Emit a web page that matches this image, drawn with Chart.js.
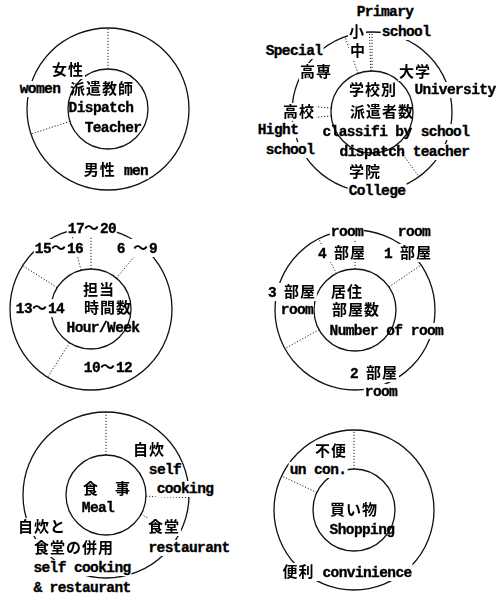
<!DOCTYPE html>
<html>
<head>
<meta charset="utf-8">
<script src="https://cdn.jsdelivr.net/npm/chart.js@4.4.0/dist/chart.umd.min.js"></script>
<style>
html, body { margin: 0; padding: 0; background: #fff; }
#page { position: relative; width: 500px; height: 598px; overflow: hidden; }
#page canvas { position: absolute; }
.lb {
    position: absolute; transform: translate(-50%, -50%); white-space: nowrap;
    font-family: "Liberation Mono", monospace; font-weight: bold; font-size: 14.5px;
    letter-spacing: -0.6px; -webkit-text-stroke: 0.35px #000;
    line-height: 16px; color: #000;
}
.lb.bg { background: #fff; padding: 0 1px; }
.j { font-family: "Noto Sans CJK JP", sans-serif; font-size: 15px; letter-spacing: 1px; -webkit-text-stroke: 0; }
</style>
</head>
<body>
<div id="page"></div>
<script>
// --- Datos (porcentajes, sentido horario desde arriba) ---
const sexLabels = ['男性 men', '女性 women'];
const sexValues = [70, 30];

const schoolLabels = ['大学 University', '学院 College', '高校 Hight school', '高専 Special', '中', '小 Primary school'];
const schoolValues = [40, 33.5, 3, 18, 5, 0.5];

const hourLabels = ['6～9', '10～12', '13～14', '15～16', '17～20'];
const hourValues = [11, 48, 25, 12, 4];

const roomLabels = ['1部屋 room', '2部屋 room', '3部屋 room', '4部屋 room'];
const roomValues = [15.5, 51.5, 25.5, 7.5];

const mealLabels = ['自炊 self cooking', '食堂 restaurant', '自炊と食堂の併用 self cooking & restaurant'];
const mealValues = [25.5, 7.5, 67];

const shopLabels = ['便利 convinience', '不便 un con.'];
const shopValues = [82, 18];

// --- Disposición de cada anillo y sus rótulos ---
const panels = [
    { labels: sexLabels, values: sexValues, cx: 108, cy: 109, R: 81, r: 40,
      text: [
        ['女性', 68, 70, true], ['women', 40, 89, true], ['派遣教師', 102, 89, false],
        ['Dispatch', 101, 108, false], ['Teacher', 113, 128, false], ['男性 men', 116, 170, true]
      ] },
    { labels: schoolLabels, values: schoolValues, cx: 372, cy: 112, R: 80, r: 41,
      text: [
        ['Primary', 385, 12, false], ['小', 357, 32, true], ['school', 406, 32, true],
        ['Special', 294, 51, true], ['中', 358, 51, true], ['高専', 316, 72, true],
        ['大学', 415, 72, true], ['学校別', 373, 90, false], ['University', 455, 90, true],
        ['高校', 299, 112, true], ['派遣者数', 382, 112, false], ['Hight', 278, 130, true],
        ['classifi by', 367, 132, false], ['school', 445, 132, true], ['school', 290, 150, true],
        ['dispatch', 372, 152, false], ['teacher', 441, 152, true], ['学院', 365, 172, true],
        ['College', 377, 191, true]
      ] },
    { labels: hourLabels, values: hourValues, cx: 91, cy: 309, R: 81, r: 40,
      text: [
        ['17～20', 92, 228, true], ['15～16', 59, 248, true], ['6 ～9', 137, 248, true],
        ['担当', 99, 290, false], ['13～14', 40, 308, true], ['時間数', 108, 308, false],
        ['Hour/Week', 103, 328, false], ['10～12', 108, 367, true]
      ] },
    { labels: roomLabels, values: roomValues, cx: 355, cy: 310, R: 80, r: 41,
      text: [
        ['room', 347, 232, true], ['room', 414, 232, false], ['4 部屋', 342, 253, true],
        ['1 部屋', 408, 253, true], ['3 部屋', 292, 292, true], ['居住', 347, 292, false],
        ['room', 297, 310, true], ['部屋数', 356, 310, false], ['Number of', 366, 331, false],
        ['room', 427, 331, true], ['2 部屋', 374, 373, true], ['room', 381, 392, true]
      ] },
    { labels: mealLabels, values: mealValues, cx: 106, cy: 495, R: 83, r: 40,
      text: [
        ['自炊', 149, 450, true], ['self', 165, 470, true], ['食　事', 107, 489, false],
        ['cooking', 185, 489, true], ['Meal', 98, 508, false], ['自炊と', 42, 527, true],
        ['食堂', 164, 527, true], ['食堂の併用', 74, 548, true], ['restaurant', 189, 548, true],
        ['self cooking', 82, 568, true], ['& restaurant', 82, 588, true]
      ] },
    { labels: shopLabels, values: shopValues, cx: 354, cy: 510, R: 80, r: 41,
      text: [
        ['不便', 331, 451, true], ['un con.', 318, 470, true], ['買い物', 354, 510, false],
        ['Shopping', 362, 530, false], ['便利 convinience', 347, 572, true]
      ] }
];

// Dibuja los círculos y las divisiones punteadas a partir de los arcos de Chart.js
const ringLines = {
    id: 'ringLines',
    afterDatasetsDraw(chart) {
        const arcs = chart.getDatasetMeta(0).data;
        if (!arcs.length) return;
        const ctx = chart.ctx;
        ctx.save();
        ctx.strokeStyle = '#222';
        ctx.lineWidth = 1;
        ctx.setLineDash([1.2, 1.8]);
        arcs.forEach(a => {
            const p = a.getProps(['x', 'y', 'startAngle', 'innerRadius', 'outerRadius'], true);
            const c = Math.cos(p.startAngle), s = Math.sin(p.startAngle);
            ctx.beginPath();
            ctx.moveTo(p.x + c * p.innerRadius, p.y + s * p.innerRadius);
            ctx.lineTo(p.x + c * p.outerRadius, p.y + s * p.outerRadius);
            ctx.stroke();
        });
        ctx.setLineDash([]);
        ctx.lineWidth = 1.3;
        ctx.strokeStyle = '#111';
        const p = arcs[0].getProps(['x', 'y', 'innerRadius', 'outerRadius'], true);
        ctx.beginPath();
        ctx.arc(p.x, p.y, p.outerRadius, 0, Math.PI * 2);
        ctx.stroke();
        ctx.beginPath();
        ctx.arc(p.x, p.y, p.innerRadius, 0, Math.PI * 2);
        ctx.stroke();
        ctx.restore();
    }
};

function richText(str) {
    // separa los tramos japoneses para darles su propio tamaño
    return str.replace(/[\u3000-\u9fff\uff00-\uffef]+/g, m => `<span class="j">${m}</span>`);
}

const page = document.getElementById('page');

panels.forEach(p => {
    const size = 2 * p.R + 6;
    const canvas = document.createElement('canvas');
    canvas.width = size;
    canvas.height = size;
    canvas.style.left = (p.cx - size / 2) + 'px';
    canvas.style.top = (p.cy - size / 2) + 'px';
    canvas.style.width = size + 'px';
    canvas.style.height = size + 'px';
    page.appendChild(canvas);

    new Chart(canvas, {
        type: 'doughnut',
        data: {
            labels: p.labels,
            datasets: [{
                data: p.values,
                backgroundColor: '#fff',
                borderWidth: 0,
                hoverOffset: 0
            }]
        },
        options: {
            responsive: false,
            animation: false,
            radius: p.R,
            cutout: (p.r / p.R * 100) + '%',
            layout: { padding: 0 },
            events: [],
            plugins: {
                legend: { display: false },
                tooltip: { enabled: false }
            }
        },
        plugins: [ringLines]
    });
});

// Rótulos encima de los anillos
panels.forEach(p => {
    p.text.forEach(([t, x, y, bg]) => {
        const d = document.createElement('div');
        d.className = 'lb' + (bg ? ' bg' : '');
        d.style.left = x + 'px';
        d.style.top = y + 'px';
        d.innerHTML = richText(t);
        page.appendChild(d);
    });
});
</script>
</body>
</html>
